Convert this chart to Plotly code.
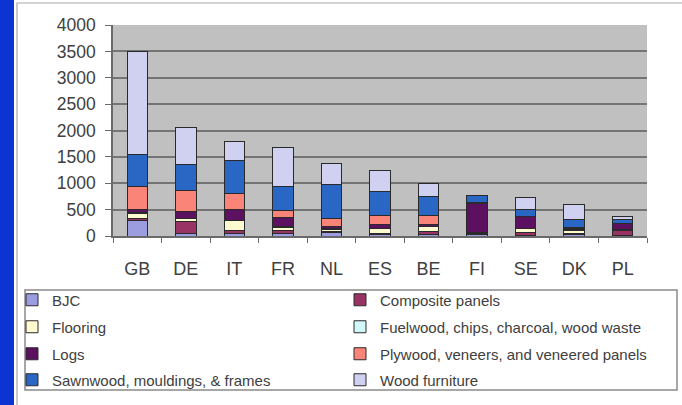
import plotly.graph_objects as go

countries = ["GB", "DE", "IT", "FR", "NL", "ES", "BE", "FI", "SE", "DK", "PL"]

bjc        = [290,  50,  50,  50,  60,  20,  30,  20,  10,  20,  10]
composite  = [ 40, 220,  50,  60,  30,  30,  50,  30,  60,  30, 100]
flooring   = [100,  60, 190,  50,  40,  90,  95,  10,  65,  60,   5]
fuelwood   = [ 20,  10,  10,  15,  10,  10,  10,  10,  10,  10,   5]
logs       = [ 60, 130, 200, 175,  35,  75,  40, 550, 220,  25, 120]
plywood    = [420, 390, 300, 140, 160, 170, 170,  10,  10,  10,   5]
sawnwood   = [620, 500, 625, 440, 650, 440, 355, 130, 120, 150,  75]
furniture  = [1950, 700, 375, 750, 390, 405, 240,  10, 235, 300,  55]

series_names = ["BJC", "Composite panels", "Flooring",
                "Fuelwood, chips, charcoal, wood waste", "Logs",
                "Plywood, veneers, and veneered panels",
                "Sawnwood, mouldings, & frames", "Wood furniture"]
series_values = [bjc, composite, flooring, fuelwood, logs, plywood, sawnwood, furniture]
series_colors = ["#9c9ce0", "#993366", "#fffbd0", "#d0f8f8",
                 "#5c1060", "#fa8478", "#2a66c4", "#d0d0f0"]

W, H = 682, 405
L, R, T, B = 113, 647, 25, 236  # plot area in px

def px_x(p):
    return (p - L) / (R - L)

def px_y(p):
    return (B - p) / (B - T)

# legend grid: two columns, four rows (row-wise order)
col_left = [12, 340]
row_y = [300, 327, 354, 380]

font_family = "Liberation Sans, Arial, sans-serif"
fig = go.Figure()
legends = {}
for i, (name, vals, col) in enumerate(zip(series_names, series_values, series_colors)):
    key = "legend" if i == 0 else f"legend{i + 1}"
    fig.add_trace(go.Bar(
        x=countries, y=vals, name=name, legend=key,
        marker=dict(color=col, line=dict(color="#2a2a2a", width=1)),
    ))
    legends[key] = dict(
        xref="paper", yref="paper", xanchor="left", yanchor="middle",
        x=px_x(col_left[i % 2]), y=px_y(row_y[i // 2]),
        orientation="v",
        font=dict(family=font_family, size=15, color="#404040"),
        bgcolor="rgba(0,0,0,0)", borderwidth=0,
        itemclick=False, itemdoubleclick=False,
    )

shapes = [
    # blue strip on the left
    dict(type="rect", xref="paper", yref="paper", layer="below",
         x0=px_x(-5), x1=px_x(14), y0=px_y(410), y1=px_y(-5),
         fillcolor="#0b34d2", line=dict(width=0)),
    # outer chart panel border
    dict(type="rect", xref="paper", yref="paper", layer="below",
         x0=px_x(17), x1=px_x(700), y0=px_y(420), y1=px_y(3),
         fillcolor="rgba(0,0,0,0)", line=dict(color="#a8a8a8", width=1.2)),
    # legend box
    dict(type="rect", xref="paper", yref="paper", layer="below",
         x0=px_x(25), x1=px_x(677), y0=px_y(390), y1=px_y(290),
         fillcolor="rgba(0,0,0,0)", line=dict(color="#8a8a8a", width=1.5)),
]

fig.update_layout(
    width=W, height=H,
    margin=dict(l=L, r=W - R, t=T, b=H - B, pad=0, autoexpand=False),
    paper_bgcolor="white", plot_bgcolor="#c0c0c0",
    barmode="stack", bargap=0.58,
    font=dict(family=font_family, color="#404040"),
    shapes=shapes,
    showlegend=True,
    **legends,
)
fig.update_xaxes(
    showgrid=False, showline=True, linecolor="#6a6a6a", linewidth=1.5,
    ticks="outside", ticklen=5, tickcolor="#6a6a6a", tickson="boundaries",
    tickfont=dict(size=18, color="#404040"), ticklabelstandoff=16,
    fixedrange=True,
)
fig.update_yaxes(
    range=[0, 4000], dtick=500, showgrid=True, gridcolor="#747474", gridwidth=1.5,
    showline=True, linecolor="#6a6a6a", linewidth=1.5,
    ticks="outside", ticklen=6, tickcolor="#6a6a6a",
    tickfont=dict(size=17.5, color="#404040"), ticklabelstandoff=6,
    zeroline=False, fixedrange=True,
)

fig.write_html(
    "out.html",
    config={"displayModeBar": False},
    post_script="document.body.style.margin='0';document.body.style.overflow='hidden';",
)
